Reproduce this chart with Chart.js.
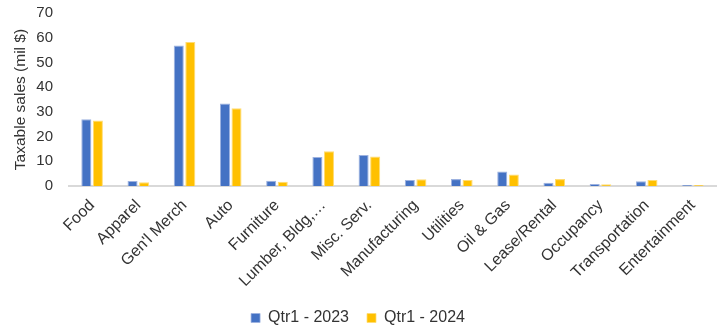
<!DOCTYPE html>
<html><head><meta charset="utf-8">
<script src="https://cdn.jsdelivr.net/npm/chart.js@4/dist/chart.umd.min.js"></script>
<style>html,body{margin:0;padding:0;background:#fff}#wrap{width:719px;height:326px}</style>
</head><body><div id="wrap"><canvas id="c" width="719" height="326"></canvas></div>
<script>
const categories = ["Food","Apparel","Gen'l Merch","Auto","Furniture","Lumber, Bldg,…","Misc. Serv.","Manufacturing","Utilities","Oil & Gas","Lease/Rental","Occupancy","Transportation","Entertainment"];
const q1_2023 = [27.0, 2.0, 56.8, 33.4, 2.1, 11.7, 12.5, 2.4, 2.8, 5.9, 1.3, 0.8, 1.9, 0.4];
const q1_2024 = [26.5, 1.5, 58.3, 31.5, 1.7, 14.1, 11.9, 2.7, 2.4, 4.7, 2.8, 0.7, 2.4, 0.4];
const yTicks = [0,10,20,30,40,50,60,70];
const font = "'Liberation Sans', Arial, sans-serif";
new Chart(document.getElementById('c'), {
  type: 'bar',
  data: {
    labels: categories,
    datasets: [
      {label: 'Qtr1 - 2023', data: q1_2023, backgroundColor: '#4472C4', borderColor: '#9db2e0', borderWidth: {left:1,right:1,top:1,bottom:0}, categoryPercentage: 0.5, barPercentage: 0.87},
      {label: 'Qtr1 - 2024', data: q1_2024, backgroundColor: '#FFC000', borderColor: '#ffdc73', borderWidth: {left:1,right:1,top:1,bottom:0}, categoryPercentage: 0.5, barPercentage: 0.87}
    ]
  },
  options: {
    responsive: false, animation: false,
    layout: {padding: {top: 13, right: 3, left: 0, bottom: -10}},
    plugins: {
      legend: {position: 'bottom', labels: {boxWidth: 9, boxHeight: 9, padding: 18, color: '#333', font: {family: font, size: 16}}},
      tooltip: {enabled: false}
    },
    scales: {
      y: {
        min: 0, max: 70,
        afterBuildTicks: s => { s.ticks = yTicks.map(v => ({value: v})); },
        afterFit: s => { s.width = 69; s.paddingTop = 0; s.paddingBottom = 0; },
        grid: {display: false, drawTicks: false},
        border: {display: false},
        ticks: {color: '#333', font: {family: font, size: 15}, padding: 16},
        title: {display: true, text: 'Taxable sales (mil $)', color: '#333', font: {family: font, size: 15.5}, padding: {top: 11, bottom: 0}}
      },
      x: {
        afterFit: s => { s.height = 106; s.paddingLeft = 0; s.paddingRight = 0; },
        grid: {display: false},
        border: {display: true, color: '#d9d9d9', width: 2},
        ticks: {color: '#333', maxRotation: 45, minRotation: 45, autoSkip: false, font: {family: font, size: 16}, padding: 2}
      }
    }
  }
});
</script></body></html>
